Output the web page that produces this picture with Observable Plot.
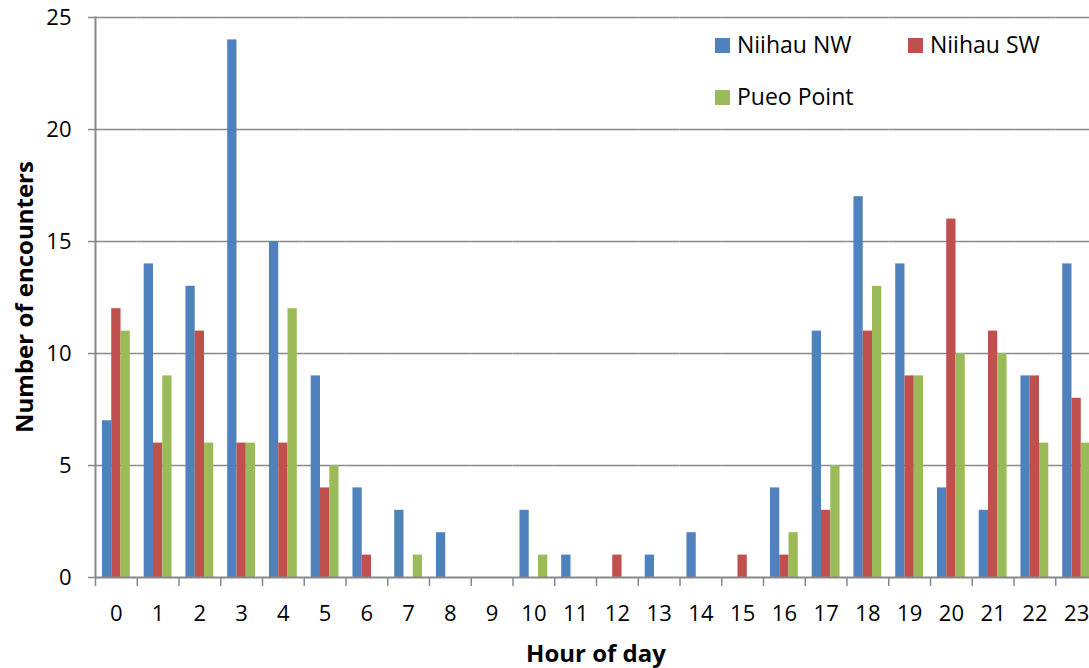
<!DOCTYPE html>
<html><head><meta charset="utf-8">
<script src="https://cdn.jsdelivr.net/npm/d3@7"></script>
<script src="https://cdn.jsdelivr.net/npm/@observablehq/plot@0.6"></script>
<style>
html,body{margin:0;padding:0;background:#fff;overflow:hidden}
#wrap{position:relative;width:1089px;height:668px;overflow:hidden;font-family:"Open Sans",sans-serif;color:#000}
#chart{position:absolute;left:0;top:0;width:1097px}
#chart svg{max-width:none !important;width:1097px;height:668px}
.ttl{position:absolute;font-weight:bold;font-size:24px;line-height:1;white-space:nowrap}
.leg{position:absolute;font-size:23px;line-height:1;white-space:nowrap}
.sw{position:absolute;width:15px;height:15px}
</style></head><body><div id="wrap"><div id="chart"></div></div>
<script>
const hours = ["0","1","2","3","4","5","6","7","8","9","10","11","12","13","14","15","16","17","18","19","20","21","22","23"];
const seriesNames = ["Niihau NW", "Niihau SW", "Pueo Point"];
const niihauNW = [7,14,13,24,15,9,4,3,2,0,3,1,0,1,2,0,4,11,17,14,4,3,9,14];
const niihauSW = [12,6,11,6,6,4,1,0,0,0,0,0,1,0,0,1,1,3,11,9,16,11,9,8];
const pueoPoint = [11,9,6,6,12,5,0,1,0,0,1,0,0,0,0,0,2,5,13,9,10,10,6,6];
const yTicks = [0,5,10,15,20,25];
const colors = ["#4F81BD", "#C0504D", "#9BBB59"];

const seriesValues = [niihauNW, niihauSW, pueoPoint];
const rows = [];
hours.forEach((h, i) => seriesNames.forEach((s, j) => rows.push({hour: h, series: s, count: seriesValues[j][i]})));

const W = 1097, ML = 95, MR = 0, MT = 17, MB = 91, H = 668;
const step = (W - ML - MR) / hours.length;
const gray = "#888888";

const marks = [
  Plot.gridY(yTicks.slice(1), {stroke: gray, strokeOpacity: 1, strokeWidth: 1.5}),
  Plot.barY(rows, {fx: "hour", x: "series", y: "count", fill: "series"}),
  Plot.ruleY([0], {stroke: gray, strokeWidth: 2}),
  Plot.axisY({ticks: yTicks, tickSize: 7, tickPadding: 17, stroke: gray, strokeWidth: 1.5, label: null, fontSize: 22, fill: "#000"}),
  Plot.axisFx({anchor: "bottom", tickSize: 0, tickPadding: 28, label: null, fontSize: 22, fill: "#000"}),
  Plot.axisFx({anchor: "bottom", tickSize: 9, tickFormat: () => "", label: null, stroke: gray, strokeWidth: 1.5, dx: -step / 2}),
  Plot.frame({anchor: "left", facetAnchor: "left", stroke: gray, strokeWidth: 2})
];

const chart = Plot.plot({
  width: W, height: H,
  marginLeft: ML, marginRight: MR, marginTop: MT, marginBottom: MB,
  style: {fontFamily: "'Open Sans', sans-serif", fontSize: "22px", color: "#000", background: "transparent", maxWidth: "none"},
  fx: {domain: hours, padding: 0, round: false, label: null, axis: null},
  x: {domain: seriesNames, paddingInner: 0, paddingOuter: 0.75, round: false, axis: null},
  y: {domain: [0, 25], axis: null},
  color: {domain: seriesNames, range: colors},
  marks
});
document.getElementById("chart").appendChild(chart);

const wrap = document.getElementById("wrap");
function addDiv(cls, text, style) {
  const d = document.createElement("div");
  d.className = cls;
  if (text) d.textContent = text;
  Object.assign(d.style, style);
  wrap.appendChild(d);
  return d;
}
// Axis titles
addDiv("ttl", "Hour of day", {left: "596px", top: "641px", transform: "translateX(-50%)"});
addDiv("ttl", "Number of encounters", {left: "24px", top: "297px", transform: "translate(-50%,-50%) rotate(-90deg)"});
// Legend
const legendPos = [[715, 38], [908, 38], [715, 90]];
seriesNames.forEach((s, i) => {
  const [lx, ly] = legendPos[i];
  addDiv("sw", "", {left: lx + "px", top: ly + "px", background: colors[i]});
  addDiv("leg", s, {left: (lx + 22) + "px", top: (ly - 5) + "px"});
});
</script>
</body></html>
